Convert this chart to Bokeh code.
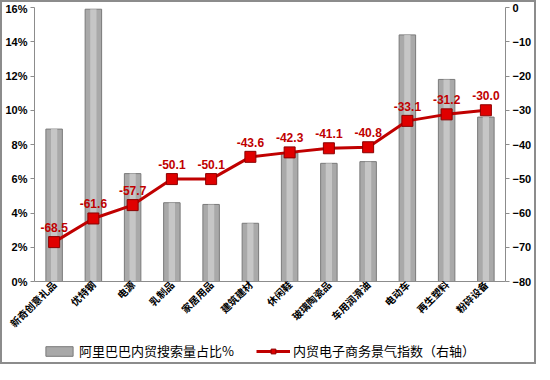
from bokeh.plotting import figure
from bokeh.layouts import column
from bokeh.models import Range1d, LinearAxis, NumeralTickFormatter, Legend, LegendItem, ColumnDataSource, FixedTicker
from bokeh.core.properties import value
from bokeh.embed import file_html
from bokeh.resources import INLINE

categories = ["新奇创意礼品", "优特钢", "电源", "乳制品", "家居用品", "建筑建材",
              "休闲鞋", "玻璃陶瓷品", "车用润滑油", "电动车", "再生塑料", "粉碎设备"]
search_share = [0.089, 0.159, 0.063, 0.046, 0.045, 0.034,
                0.075, 0.069, 0.070, 0.144, 0.118, 0.096]
index_vals = [-68.5, -61.6, -57.7, -50.1, -50.1, -43.6,
              -42.3, -41.1, -40.8, -33.1, -31.2, -30.0]
left_ticks = [0, 0.02, 0.04, 0.06, 0.08, 0.10, 0.12, 0.14, 0.16]
right_ticks = [0, -10, -20, -30, -40, -50, -60, -70, -80]
series_names = ["阿里巴巴内贸搜索量占比%", "内贸电子商务景气指数（右轴）"]

src = ColumnDataSource(dict(cat=categories, share=search_share, idx=index_vals,
                            lbl=["%.1f" % v for v in index_vals]))

p = figure(width=532, height=336, x_range=categories, y_range=Range1d(0, 0.16),
           output_backend="svg", toolbar_location=None,
           min_border_left=32, min_border_right=28, min_border_top=5, min_border_bottom=40)
p.extra_y_ranges = {"right": Range1d(-80, 0)}
p.xgrid.visible = False
p.ygrid.visible = False
p.outline_line_color = None
p.background_fill_color = "white"
p.border_fill_color = "white"

bar_style = dict(fill_color="#a9a9a9", line_color="#7a7a7a", line_width=1)
p.vbar(x="cat", top="share", width=0.42, source=src, **bar_style)
p.vbar(x="cat", top="share", width=0.16, source=src,
       fill_color="#cdcdcd", line_color=None, fill_alpha=0.8)

line_style = dict(line_color="#c00000", line_width=3)
mark_style = dict(marker="square", size=11, fill_color="#e00000", line_color="#8b0000", line_width=1)
p.line(x="cat", y="idx", source=src, y_range_name="right", **line_style)
p.scatter(x="cat", y="idx", source=src, y_range_name="right", **mark_style)
p.text(x="cat", y="idx", text="lbl", source=src, y_range_name="right",
       y_offset=-10, text_align="center", text_baseline="bottom",
       text_color="#c00000", text_font_size="12px", text_font=value("Liberation Sans"),
       text_font_style="bold")

p.yaxis.ticker = FixedTicker(ticks=left_ticks)
p.yaxis.formatter = NumeralTickFormatter(format="0%")
ax_r = LinearAxis(y_range_name="right", ticker=FixedTicker(ticks=right_ticks))
p.add_layout(ax_r, "right")

for ax in [p.yaxis[0], ax_r]:
    ax.axis_line_color = "#8c8c8c"
    ax.major_tick_line_color = "#8c8c8c"
    ax.major_tick_in = 0
    ax.major_tick_out = 4
    ax.major_label_standoff = 3
    ax.minor_tick_line_color = None
    ax.major_label_text_font = "Liberation Sans"
    ax.major_label_text_font_style = "bold"
    ax.major_label_text_font_size = "11px"
    ax.major_label_text_color = "#000000"

xa = p.xaxis[0]
xa.axis_line_color = "#8c8c8c"
xa.major_tick_line_color = "#8c8c8c"
xa.major_tick_in = 0
xa.major_tick_out = 0
xa.major_label_standoff = 1
xa.major_label_orientation = 0.785
xa.major_label_text_font = "Noto Sans CJK SC"
xa.major_label_text_font_size = "10px"
xa.major_label_text_font_style = "bold"
xa.major_label_text_color = "#000000"

# legend strip: same series drawn through scales kept out of view, used only for swatches
lg = figure(width=532, height=24, output_backend="svg", toolbar_location=None,
            x_range=categories, y_range=Range1d(1, 2),
            x_axis_location=None, y_axis_location=None,
            min_border=0, outline_line_color=None)
lg.grid.visible = False
lg.extra_y_ranges = {"right": Range1d(1, 2)}
r_bar = lg.vbar(x="cat", top="share", width=0.42, source=src, **bar_style)
r_line = lg.line(x="cat", y="idx", source=src, y_range_name="right", **line_style)
r_mark = lg.scatter(x="cat", y="idx", source=src, y_range_name="right", **mark_style)
legend = Legend(items=[LegendItem(label=series_names[0], renderers=[r_bar]),
                       LegendItem(label=series_names[1], renderers=[r_line, r_mark])],
                orientation="horizontal", location=(8, 2),
                label_text_font="Noto Sans CJK SC", label_text_font_size="13px",
                label_text_color="#000000", background_fill_alpha=0,
                border_line_color=None, spacing=22, glyph_width=34, glyph_height=12,
                label_standoff=3, padding=2, margin=0)
lg.add_layout(legend)

layout = column(p, lg, spacing=0)
layout.styles = {"border": "2px solid #8c8c8c"}
open("out.html", "w").write(file_html(layout, INLINE))
